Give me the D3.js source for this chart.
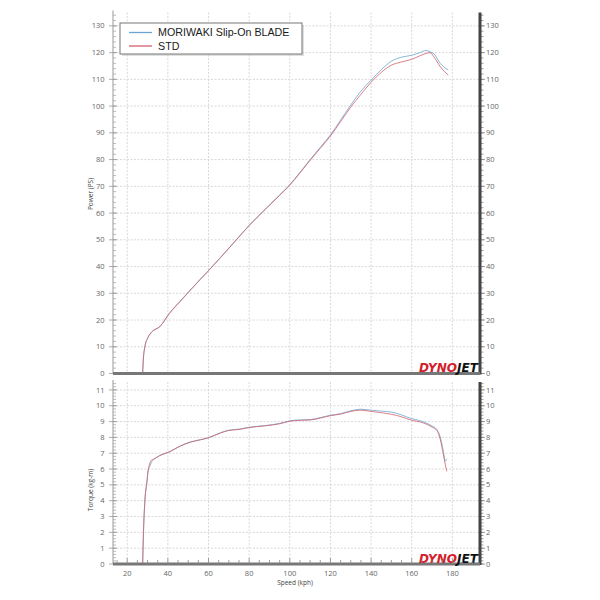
<!DOCTYPE html>
<html><head><meta charset="utf-8">
<script src="https://cdn.jsdelivr.net/npm/d3@7"></script>
<style>html,body{margin:0;padding:0;background:#fff;}svg{display:block;}</style>
</head><body>
<svg id="c" width="600" height="600"></svg>
<script>
// ---- data ----
const seriesNames = ["MORIWAKI Slip-On BLADE", "STD"];
const seriesColors = ["#6aa6cf", "#d2606c"];
const xTicks = [20, 40, 60, 80, 100, 120, 140, 160, 180];
const powerTicks = [0,10,20,30,40,50,60,70,80,90,100,110,120,130];
const torqueTicks = [0,1,2,3,4,5,6,7,8,9,10,11];

const powerSpeed = [27.6,27.9,28.7,30.3,32,36,41,46,51,56,60,66,72,80,88,95,100,105,110,115,120,125,130,135,140,145,150,155,160,164,167,169,171,174,176,178];
const powerBlade = [0,5,10,13.6,15.5,17.5,22.8,27,31.2,35.3,38.5,43.5,48.6,55.4,61.5,66.8,70.6,75.2,80,84.6,89.2,94.8,100.4,105.6,109.7,113.6,116.8,118.3,119,120,120.8,120.3,119.5,116,114.5,113.5];
const powerStd   = [0,5,10,13.6,15.5,17.5,22.7,26.9,31.1,35.2,38.4,43.4,48.5,55.3,61.4,66.6,70.4,75,79.7,84.2,88.8,94.2,99.6,104.4,108.9,112.6,115.3,116.5,117.5,118.8,119.7,120,118.3,114.8,113,111.6];

const torqueSpeed = [27.6,28,28.7,29.7,30.3,31.2,32,33,36,41,46,51,56,60,66,70,75,80,88,95,100,105,110,115,120,125,130,135,140,145,150,155,160,164,167,170,172.3,174,175.6,176.5,177.3];
const torqueBlade = [0,2,4,5.2,5.9,6.2,6.45,6.6,6.85,7.1,7.45,7.7,7.85,7.98,8.3,8.45,8.52,8.64,8.75,8.88,9.05,9.1,9.12,9.25,9.4,9.5,9.68,9.78,9.72,9.66,9.6,9.42,9.18,9.06,8.92,8.72,8.5,8.05,7.1,6.5,6.65];
const torqueStd   = [0,2,4,5.2,5.9,6.4,6.57,6.62,6.85,7.1,7.45,7.7,7.85,7.98,8.28,8.44,8.5,8.62,8.73,8.86,9.02,9.08,9.1,9.22,9.37,9.47,9.64,9.72,9.64,9.56,9.46,9.3,9.08,8.98,8.85,8.65,8.45,7.9,6.9,6.3,5.85];

// ---- layout ----
const svg = d3.select("#c");
const L = 113, R = 480;
const x = d3.scaleLinear().domain([13, 193.6]).range([L, R]);
const yP = d3.scaleLinear().domain([0, 135]).range([373.5, 12.5]);
const yT = d3.scaleLinear().domain([0, 11.5]).range([564, 382]);
const tickFont = "'Open Sans', 'DejaVu Sans', sans-serif";

function panel(y, ticks, minorStep, title, titleY, data, spd) {
  const g = svg.append("g");
  const [y0, y1] = y.range();
  // grid
  g.selectAll(".vg").data(xTicks).join("line")
    .attr("x1", d => x(d)).attr("x2", d => x(d)).attr("y1", y1).attr("y2", y0)
    .attr("stroke", "#d4d4d4").attr("stroke-dasharray", "2,1.5").attr("stroke-width", 0.9);
  g.selectAll(".hg").data(ticks.filter(d => d > 0)).join("line")
    .attr("x1", L).attr("x2", R).attr("y1", d => y(d)).attr("y2", d => y(d))
    .attr("stroke", "#d4d4d4").attr("stroke-dasharray", "2,1.5").attr("stroke-width", 0.9);
  // left axis
  const maxV = y.domain()[1];
  const minor = d3.range(0, maxV + 1e-9, minorStep);
  g.append("line").attr("x1", L).attr("x2", L).attr("y1", y1 - 2).attr("y2", y0).attr("stroke", "#999").attr("stroke-width", 1);
  g.selectAll(".lm").data(minor).join("line")
    .attr("x1", L).attr("x2", L + 3).attr("y1", d => y(d)).attr("y2", d => y(d)).attr("stroke", "#aaa").attr("stroke-width", 0.8);
  g.selectAll(".lM").data(ticks).join("line")
    .attr("x1", L - 4).attr("x2", L + 4).attr("y1", d => y(d)).attr("y2", d => y(d)).attr("stroke", "#999").attr("stroke-width", 0.8);
  g.selectAll(".ll").data(ticks).join("text")
    .attr("x", 104.5).attr("y", d => y(d)).attr("dy", "0.35em").attr("text-anchor", "end")
    .attr("font-family", tickFont).attr("font-size", 7.5).attr("fill", "#666").text(d => d);
  // right axis
  g.selectAll(".rm").data(minor).join("line")
    .attr("x1", R).attr("x2", R + 3.5).attr("y1", d => y(d)).attr("y2", d => y(d)).attr("stroke", "#888").attr("stroke-width", 0.8);
  g.selectAll(".rM").data(ticks).join("line")
    .attr("x1", R).attr("x2", R + 5).attr("y1", d => y(d)).attr("y2", d => y(d)).attr("stroke", "#888").attr("stroke-width", 0.8);
  g.append("line").attr("x1", R).attr("x2", R).attr("y1", y1).attr("y2", y0 + 1).attr("stroke", "#444").attr("stroke-width", 3);
  g.selectAll(".rl").data(ticks).join("text")
    .attr("x", 486).attr("y", d => y(d)).attr("dy", "0.35em").attr("text-anchor", "start")
    .attr("font-family", tickFont).attr("font-size", 7.5).attr("fill", "#666").text(d => d);
  // title
  g.append("text").attr("transform", `translate(91,${titleY}) rotate(-90)`).attr("text-anchor", "middle")
    .attr("dy", "0.35em").attr("font-family", tickFont).attr("font-size", 6.5).attr("fill", "#444").text(title);
  // lines
  const line = (vals) => d3.line().x((d, i) => x(spd[i])).y(d => y(d)).curve(d3.curveMonotoneX)(vals);
  data.forEach((vals, i) => {
    g.append("path").attr("d", line(vals)).attr("fill", "none")
      .attr("stroke", seriesColors[i]).attr("stroke-width", 1).attr("stroke-opacity", 0.8);
  });
  // bottom axis
  g.append("line").attr("x1", L).attr("x2", R).attr("y1", y0).attr("y2", y0).attr("stroke", "#777").attr("stroke-width", 3);
  // dynojet logo
  const lg = g.append("text").attr("x", 478).attr("y", y0 - 1.5).attr("text-anchor", "end")
    .attr("font-family", "'DejaVu Sans', sans-serif").attr("font-weight", "bold").attr("font-style", "italic")
    .attr("font-size", 11.5).attr("textLength", 59).attr("lengthAdjust", "spacingAndGlyphs");
  lg.append("tspan").attr("fill", "#d4202c").text("DYNO");
  lg.append("tspan").attr("fill", "#111").text("JET");
  return g;
}

panel(yP, powerTicks, 2, "Power (PS)", 194, [powerBlade, powerStd], powerSpeed);
const gT = panel(yT, torqueTicks, 0.2, "Torque (kg-m)", 490, [torqueBlade, torqueStd], torqueSpeed);

// x ticks on torque panel
gT.selectAll(".xt").data(d3.range(15, 191, 5)).join("line")
  .attr("x1", d => x(d)).attr("x2", d => x(d)).attr("y1", 564).attr("y2", d => d % 20 === 0 ? 558 : 560)
  .attr("stroke", "#888").attr("stroke-width", 0.8);
gT.selectAll(".xl").data(xTicks).join("text")
  .attr("x", d => x(d)).attr("y", 573).attr("dy", "0.35em").attr("text-anchor", "middle")
  .attr("font-family", tickFont).attr("font-size", 7.5).attr("fill", "#666").text(d => d);
svg.append("text").attr("x", 295).attr("y", 582.5).attr("dy", "0.35em").attr("text-anchor", "middle")
  .attr("font-family", tickFont).attr("font-size", 6.5).attr("fill", "#444").text("Speed (kph)");

// legend
const lgd = svg.append("g");
lgd.append("rect").attr("x", 122).attr("y", 25).attr("width", 182).attr("height", 31).attr("fill", "#ccc").attr("opacity", 0.6);
lgd.append("rect").attr("x", 120).attr("y", 23).attr("width", 182).attr("height", 31).attr("fill", "#fff").attr("stroke", "#777").attr("stroke-width", 1);
seriesNames.forEach((n, i) => {
  const yy = 32.5 + i * 13.5;
  lgd.append("line").attr("x1", 129).attr("x2", 152).attr("y1", yy).attr("y2", yy).attr("stroke", seriesColors[i]).attr("stroke-width", 1.3);
  lgd.append("text").attr("x", 158).attr("y", yy).attr("dy", "0.35em").attr("font-family", "'Liberation Sans', Arial, sans-serif")
    .attr("font-size", 10.7).attr("fill", "#1a1a1a").text(n);
});
</script>
</body></html>
